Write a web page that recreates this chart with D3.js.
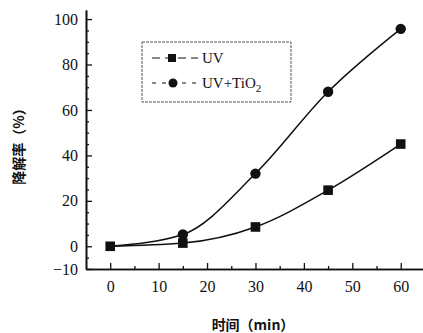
<!DOCTYPE html>
<html>
<head>
<meta charset="utf-8">
<script src="https://cdn.jsdelivr.net/npm/d3@7"></script>
<style>
  body { margin: 0; background: #fff; }
  text { font-family: "Liberation Serif", "DejaVu Serif", serif; fill: #111; }
  .cjk { font-family: "Noto Sans CJK SC", sans-serif; font-weight: bold; }
</style>
</head>
<body>
<div class="canvas"></div>
<script>
const times = [0, 15, 30, 45, 60];
const uv = [0, 1.4, 8.5, 24.7, 45];
const uvTiO2 = [0, 5.2, 32, 68, 95.7];
const xTicks = [0, 10, 20, 30, 40, 50, 60];
const yTicks = [-10, 0, 20, 40, 60, 80, 100];

const dims = { width: 423, height: 333 };
const margin = { left: 86, top: 10, right: 0, bottom: 64 };

const svg = d3
  .select(".canvas")
  .append("svg")
  .attr("width", dims.width)
  .attr("height", dims.height);

// scales
const x = d3.scaleLinear().domain([-5, 64.6]).range([margin.left, dims.width]);
const y = d3.scaleLinear().domain([-10, 104]).range([269, margin.top]);

// axes, ticks pointing inward
const xAxis = svg.append("g").attr("transform", `translate(0, ${y(-10)})`);
xAxis.call(d3.axisBottom(x).tickValues(xTicks).tickSize(-6).tickPadding(12).tickSizeOuter(0));
const xMinor = svg.append("g").attr("transform", `translate(0, ${y(-10)})`);
xMinor.call(d3.axisBottom(x).tickValues([5, 15, 25, 35, 45, 55]).tickSize(-3).tickFormat("").tickSizeOuter(0));

const yAxis = svg.append("g").attr("transform", `translate(${margin.left}, 0)`);
yAxis.call(
  d3.axisLeft(y).tickValues(yTicks).tickSize(-6).tickPadding(8).tickSizeOuter(0)
    .tickFormat((d) => (d < 0 ? "\u2212" + Math.abs(d) : d))
);
const yMinor = svg.append("g").attr("transform", `translate(${margin.left}, 0)`);
yMinor.call(
  d3.axisLeft(y).tickValues(d3.range(-5, 104, 5).filter((d) => d % 20 !== 0)).tickSize(-3).tickFormat("").tickSizeOuter(0)
);

svg.selectAll(".domain").attr("stroke", "#111").attr("stroke-width", 1.6);
svg.selectAll(".tick line").attr("stroke", "#111").attr("stroke-width", 1.3);
svg.selectAll(".tick text").attr("font-size", 16).attr("fill", "#111")
  .style("font-family", "'Liberation Serif', serif");

// lines
const line = d3
  .line()
  .x((d) => x(d.t))
  .y((d) => y(d.v))
  .curve(d3.curveMonotoneX);

const series = [
  { name: "UV", values: uv, shape: "square" },
  { name: "UV+TiO2", values: uvTiO2, shape: "circle" },
];

series.forEach((s) => {
  const pts = times.map((t, i) => ({ t, v: s.values[i] }));
  svg.append("path")
    .attr("d", line(pts))
    .attr("fill", "none")
    .attr("stroke", "#111")
    .attr("stroke-width", 1.5);
});

// markers (circles first so the square at 0 sits on top)
svg.selectAll(".circ")
  .data(times.map((t, i) => ({ t, v: uvTiO2[i] })).filter((d) => d.t > 0))
  .enter()
  .append("circle")
  .attr("cx", (d) => x(d.t))
  .attr("cy", (d) => y(d.v))
  .attr("r", 5.2)
  .attr("fill", "#111");

svg.selectAll(".sq")
  .data(times.map((t, i) => ({ t, v: uv[i] })))
  .enter()
  .append("rect")
  .attr("x", (d) => x(d.t) - 4.8)
  .attr("y", (d) => y(d.v) - 4.8)
  .attr("width", 9.6)
  .attr("height", 9.6)
  .attr("fill", "#111");

// legend
const legend = svg.append("g");
legend.append("rect")
  .attr("x", 142).attr("y", 42).attr("width", 149).attr("height", 60)
  .attr("fill", "none").attr("stroke", "#555").attr("stroke-width", 1)
  .attr("stroke-dasharray", "3,1");

const legRows = [
  { y: 58, shape: "square", label: "UV" },
  { y: 83, shape: "circle", label: "UV+TiO" },
];
legRows.forEach((r) => {
  legend.append("line")
    .attr("x1", 152).attr("x2", 198).attr("y1", r.y).attr("y2", r.y)
    .attr("stroke", "#111").attr("stroke-width", 1)
    .attr("stroke-dasharray", r.shape === "square" ? "8,5" : "4,6");
  if (r.shape === "square") {
    legend.append("rect").attr("x", 168).attr("y", r.y - 4).attr("width", 8).attr("height", 8).attr("fill", "#111");
  } else {
    legend.append("circle").attr("cx", 173).attr("cy", r.y).attr("r", 4.5).attr("fill", "#111");
  }
  const t = legend.append("text").attr("x", 202).attr("y", r.y + 5).attr("font-size", 15).text(r.label);
  if (r.shape === "circle") {
    t.append("tspan").attr("font-size", 11).attr("dy", 4).text("2");
  }
});

// axis titles
svg.append("text")
  .attr("class", "cjk")
  .attr("x", 253).attr("y", 330)
  .attr("text-anchor", "middle")
  .attr("font-size", 14)
  .text("时间（min）");

svg.append("text")
  .attr("class", "cjk")
  .attr("transform", `translate(24, 143) rotate(-90)`)
  .attr("text-anchor", "middle")
  .attr("font-size", 14)
  .text("降解率（%）");
</script>
</body>
</html>
